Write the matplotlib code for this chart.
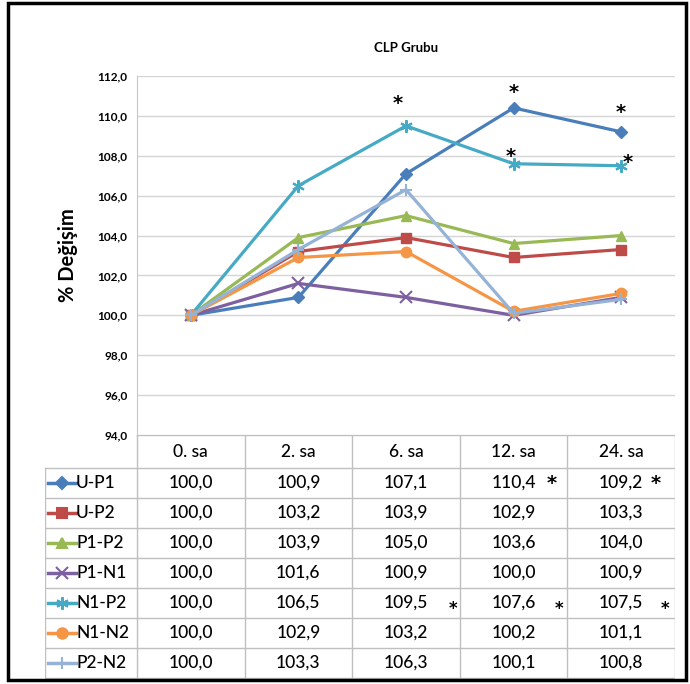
import matplotlib.pyplot as plt
from matplotlib.patches import Rectangle

plt.rcParams['font.family'] = ['Lato', 'DejaVu Sans']

times = ["0. sa", "2. sa", "6. sa", "12. sa", "24. sa"]
groups = ["U-P1", "U-P2", "P1-P2", "P1-N1", "N1-P2", "N1-N2", "P2-N2"]
u_p1 = [100.0, 100.9, 107.1, 110.4, 109.2]
u_p2 = [100.0, 103.2, 103.9, 102.9, 103.3]
p1_p2 = [100.0, 103.9, 105.0, 103.6, 104.0]
p1_n1 = [100.0, 101.6, 100.9, 100.0, 100.9]
n1_p2 = [100.0, 106.5, 109.5, 107.6, 107.5]
n1_n2 = [100.0, 102.9, 103.2, 100.2, 101.1]
p2_n2 = [100.0, 103.3, 106.3, 100.1, 100.8]
# time indices marked significant (*)
sig_u_p1 = [3, 4]
sig_n1_p2 = [2, 3, 4]

series = [u_p1, u_p2, p1_p2, p1_n1, n1_p2, n1_n2, p2_n2]
colors = ["#4A7EBB", "#BE4B48", "#98B954", "#7D60A0", "#46AAC5", "#F59646", "#95B3D7"]
markers = ["D", "s", "^", "x", (6, 2, 0), "o", "+"]
msizes = [6.5, 7, 7.5, 8, 9, 7.5, 9]

fig = plt.figure(figsize=(6.9, 6.84), dpi=100)
W, H = 690, 684


def fig_box(x0, y0, x1, y1):
    return [x0 / W, 1 - y1 / H, (x1 - x0) / W, (y1 - y0) / H]


# outer frame
fig.patches.append(Rectangle((8 / W, 4 / H), 678 / W, 677 / H, transform=fig.transFigure,
                             fill=False, edgecolor="black", linewidth=2.5))

ax = fig.add_axes(fig_box(137, 76, 675, 435))
x = list(range(len(times)))
for vals, c, m, ms in zip(series, colors, markers, msizes):
    ax.plot(x, vals, color=c, linewidth=2.3, marker=m, markersize=ms,
            markeredgewidth=1.5 if m in ("x", "+") or isinstance(m, tuple) else 1,
            markeredgecolor=c, markerfacecolor=c, zorder=3)

ax.set_xlim(-0.5, 4.5)
ax.set_ylim(94, 112)
ax.set_yticks([94 + 2 * i for i in range(10)])
ax.set_yticklabels([f"{t:.1f}".replace(".", ",") for t in ax.get_yticks()],
                   fontsize=8.5, fontweight="bold")
ax.set_xticks([])
ax.grid(axis="y", color="#D4D4D4", linewidth=1)
ax.set_axisbelow(True)
for s in ["top", "right", "bottom"]:
    ax.spines[s].set_visible(False)
ax.spines["left"].set_color("#C8C8C8")
ax.tick_params(axis="y", length=0, pad=7)

ax.set_title("CLP Grubu", fontsize=9.5, fontweight="bold", pad=17)
ax.set_ylabel("% Değişim", fontsize=14.5, fontweight="bold", labelpad=14)

star_font = dict(family="DejaVu Sans", fontweight="bold", fontsize=14)

# significance stars on the chart
star_offsets_u = {3: (0, 11), 4: (0, 14)}
star_offsets_n = {2: (-6, 16), 3: (-2, 5), 4: (5, 2)}
for i in sig_u_p1:
    ax.annotate("*", (x[i], u_p1[i]), xytext=star_offsets_u[i], textcoords="offset points",
                ha="center", va="center", **star_font)
for i in sig_n1_p2:
    ax.annotate("*", (x[i], n1_p2[i]), xytext=star_offsets_n[i], textcoords="offset points",
                ha="center", va="center", **star_font)

# data table under the chart
tab = fig.add_axes(fig_box(45, 435, 675, 680))
left = -0.5 - (137 - 45) / 107.6
tab.set_xlim(left, 4.5)
tab.set_ylim(245, 0)
tab.axis("off")
line_c = "#BFBFBF"
header_h, row_h = 33, 30
bottom = header_h + row_h * len(groups)
for k in range(len(times) + 1):
    tab.plot([k - 0.5, k - 0.5], [0, bottom], color=line_c, linewidth=1)
tab.plot([left, left], [header_h, bottom], color=line_c, linewidth=1)
tab.plot([-0.5, 4.5], [0, 0], color=line_c, linewidth=1)
for r in range(len(groups) + 1):
    tab.plot([left, 4.5], [header_h + r * row_h] * 2, color=line_c, linewidth=1)

fs = 12.5
fw = "medium"
for k, t in enumerate(times):
    tab.text(k, header_h / 2 + 1, t, ha="center", va="center", fontsize=fs, fontweight=fw)

px = 1 / 107.6
for r, (g, vals, c, m, ms) in enumerate(zip(groups, series, colors, markers, msizes)):
    yc = header_h + row_h * r + row_h / 2
    tab.plot([left + 3 * px, left + 31 * px], [yc, yc], color=c, linewidth=2.5)
    tab.plot([left + 17 * px], [yc], marker=m, color=c, markersize=ms,
             markeredgewidth=1.5, markerfacecolor=c, markeredgecolor=c)
    tab.text(left + 31 * px, yc, g, ha="left", va="center", fontsize=fs, fontweight=fw)
    for k, v in enumerate(vals):
        tab.text(k, yc, f"{v:.1f}".replace(".", ","), ha="center", va="center",
                 fontsize=fs, fontweight=fw)

table_star_dx = {"U-P1": {3: 0.35, 4: 0.32}, "N1-P2": {2: 0.44, 3: 0.42, 4: 0.41}}
for k in sig_u_p1:
    yc = header_h + row_h / 2
    tab.text(k + table_star_dx["U-P1"][k], yc + 1, "*", ha="center", va="center", **star_font)
for k in sig_n1_p2:
    yc = header_h + row_h * 4 + row_h / 2
    tab.text(k + table_star_dx["N1-P2"][k], yc + 6, "*", ha="center", va="center",
             family="DejaVu Sans", fontweight="bold", fontsize=12)

fig.savefig("out.png", dpi=100)
